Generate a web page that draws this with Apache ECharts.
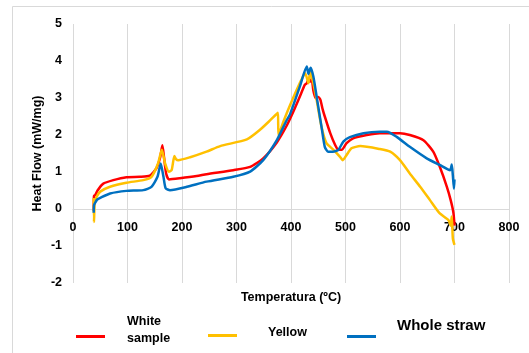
<!DOCTYPE html>
<html>
<head>
<meta charset="utf-8">
<script src="https://cdn.jsdelivr.net/npm/echarts@6/dist/echarts.min.js"></script>
<style>
html,body{margin:0;padding:0;background:#fff;}
#c{width:529px;height:353px;}
</style>
</head>
<body>
<div id="c"></div>
<script>
// ---- data ----
const seriesNames = ['White sample', 'Yellow', 'Whole straw'];
const xTicks = [0, 100, 200, 300, 400, 500, 600, 700, 800];
const yTicks = [-2, -1, 0, 1, 2, 3, 4, 5];

const whiteT = [38,38.5,41,45,55,74,98,123,141,153,160,164,167,171,176,196,227,245,294,325,349,374,392,404,418,425,429,432,435,438,441,445,450,454,458,462,472,481,487,493,502,514,539,563,582,600,618,643,661,673,686,693,698,700];
const whiteHF = [-0.05,0.35,0.38,0.5,0.68,0.78,0.86,0.87,0.9,1.1,1.4,1.72,1.4,0.95,0.8,0.83,0.89,0.94,1.05,1.14,1.37,1.8,2.25,2.62,3.1,3.35,3.4,3.5,3.44,3.52,3.2,3.0,3.03,2.95,2.7,2.5,2.05,1.73,1.6,1.6,1.78,1.91,2.0,2.05,2.05,2.05,2.0,1.86,1.55,1.14,0.6,0.24,-0.1,-0.45];

const yellowT = [38,38.5,40,44,50,68,98,129,144,156,163,169,176,181,186,189,193,215,245,270,319,343,362,376,377,386,398,416,426,432,435,441,447,456,465,478,490,495,502,511,527,563,582,600,618,637,655,673,689,693,695,697,700];
const yellowHF = [0.3,-0.35,0.2,0.35,0.47,0.6,0.71,0.78,0.87,1.23,1.6,1.23,1.01,1.05,1.43,1.35,1.32,1.4,1.55,1.7,1.88,2.14,2.4,2.6,2.0,2.36,2.8,3.4,3.67,3.4,3.71,3.4,2.95,2.22,1.78,1.6,1.41,1.32,1.46,1.64,1.7,1.62,1.55,1.32,0.96,0.6,0.24,-0.12,-0.3,-0.45,-0.2,-0.8,-0.97];

const strawT = [38,38.5,40,44,50,68,98,129,144,155,161,166,170,178,209,245,294,325,349,374,392,398,416,429,432,436,441,448,456,462,468,477,487,496,508,533,563,576,594,618,649,673,692,695,697,699,700];
const strawHF = [-0.1,0.1,0.15,0.25,0.3,0.42,0.49,0.51,0.6,0.87,1.23,0.87,0.56,0.51,0.6,0.74,0.87,1.01,1.32,1.86,2.4,2.55,3.3,3.85,3.65,3.82,3.58,2.95,2.22,1.68,1.55,1.55,1.6,1.82,1.94,2.05,2.09,2.09,1.95,1.68,1.37,1.19,1.05,1.2,0.9,0.55,0.8];

const colors = ['#FF0000', '#FFC000', '#0070C0'];

function pairs(xs, ys) { return xs.map((x, i) => [x, ys[i]]); }

const chart = echarts.init(document.getElementById('c'), null, {renderer: 'canvas'});
const FONT = 'Liberation Sans, Arial, sans-serif';

function legendIcon(name, left, top) {
  return {data: [name], left: left, top: top, padding: 0, icon: 'rect', itemWidth: 29, itemHeight: 3,
          formatter: () => '', selectedMode: false, textStyle: {fontSize: 1, padding: 0}};
}

const option = {
  animation: false,
  backgroundColor: '#fff',
  textStyle: {fontFamily: FONT},
  graphic: [
    {type: 'rect', z: -10, silent: true,
     shape: {x: 12.5, y: 6.5, width: 540, height: 380},
     style: {fill: 'none', stroke: '#d9d9d9', lineWidth: 1}},
    {type: 'text', left: 127, top: 313, silent: true,
     style: {text: 'White\nsample', font: 'bold 12.5px ' + FONT, fill: '#000', lineHeight: 17}},
    {type: 'text', left: 268, top: 326, silent: true,
     style: {text: seriesNames[1], font: 'bold 12.5px ' + FONT, fill: '#000'}},
    {type: 'text', left: 397, top: 318, silent: true,
     style: {text: seriesNames[2], font: 'bold 15px ' + FONT, fill: '#000'}}
  ],
  grid: {left: 73, right: 20, top: 24, bottom: 70, containLabel: false, outerBoundsMode: 'none'},
  xAxis: {
    type: 'value', min: xTicks[0], max: xTicks[xTicks.length - 1], interval: 100,
    name: 'Temperatura (ºC)', nameLocation: 'middle', nameGap: 8,
    nameTextStyle: {fontFamily: FONT, fontWeight: 'bold', fontSize: 12.5, color: '#000'},
    axisLine: {onZero: true, lineStyle: {color: '#d9d9d9', width: 1}},
    axisTick: {show: false},
    axisLabel: {fontFamily: FONT, fontWeight: 'bold', fontSize: 12.5, color: '#000', margin: -62},
    splitLine: {show: true, lineStyle: {color: '#d9d9d9', width: 1}}
  },
  yAxis: {
    type: 'value', min: yTicks[0], max: yTicks[yTicks.length - 1], interval: 1,
    name: 'Heat Flow (mW/mg)', nameLocation: 'middle', nameGap: 29, nameMoveOverlap: false,
    nameTextStyle: {fontFamily: FONT, fontWeight: 'bold', fontSize: 12.5, color: '#000'},
    axisLine: {show: false},
    axisTick: {show: false},
    axisLabel: {fontFamily: FONT, fontWeight: 'bold', fontSize: 12.5, color: '#000', margin: 11},
    splitLine: {show: false}
  },
  legend: [
    legendIcon(seriesNames[0], 76, 335),
    legendIcon(seriesNames[1], 208, 334),
    legendIcon(seriesNames[2], 347, 335)
  ],
  series: [
    {name: seriesNames[0], type: 'line', data: pairs(whiteT, whiteHF), showSymbol: false, smooth: 0.2,
     lineStyle: {color: colors[0], width: 2.5}, itemStyle: {color: colors[0]}},
    {name: seriesNames[1], type: 'line', data: pairs(yellowT, yellowHF), showSymbol: false, smooth: 0.2,
     lineStyle: {color: colors[1], width: 2.5}, itemStyle: {color: colors[1]}},
    {name: seriesNames[2], type: 'line', data: pairs(strawT, strawHF), showSymbol: false, smooth: 0.2,
     lineStyle: {color: colors[2], width: 2.5}, itemStyle: {color: colors[2]}}
  ]
};
chart.setOption(option);
</script>
</body>
</html>
